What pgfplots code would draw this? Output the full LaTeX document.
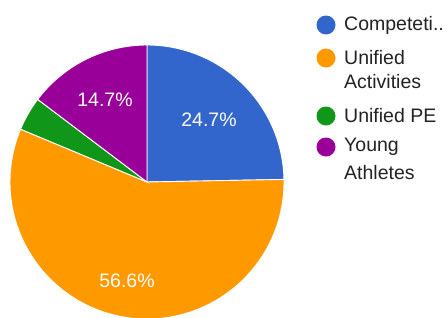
\documentclass[border=0pt]{standalone}
\usepackage{fontspec}
\setmainfont{Liberation Sans}
\usepackage{pgfplots}
\pgfplotsset{compat=1.18}
\definecolor{cBlue}{HTML}{3366CC}
\definecolor{cOrange}{HTML}{FF9900}
\definecolor{cGreen}{HTML}{109618}
\definecolor{cPurple}{HTML}{990099}
\definecolor{cText}{HTML}{222222}
% shares (percent)
\def\vA{24.7}
\def\vB{56.6}
\def\vC{4.0}
\def\vD{14.7}
\def\R{137}
\begin{document}
\begin{tikzpicture}
\begin{axis}[
  x=1pt, y=1pt,
  xmin=-147, xmax=300, ymin=-135, ymax=182,
  hide axis,
  clip mode=individual,
]
% slices, clockwise from 12 o'clock
\addplot[fill=cBlue, draw=white, line width=0.9pt, domain={90-3.6*(\vA)}:{90}, samples=80]
  ({\R*cos(x)},{\R*sin(x)}) -- (axis cs:0,0) -- cycle;
\addplot[fill=cOrange, draw=white, line width=0.9pt, domain={90-3.6*(\vA+\vB)}:{90-3.6*(\vA)}, samples=150]
  ({\R*cos(x)},{\R*sin(x)}) -- (axis cs:0,0) -- cycle;
\addplot[fill=cGreen, draw=white, line width=0.9pt, domain={90-3.6*(\vA+\vB+\vC)}:{90-3.6*(\vA+\vB)}, samples=20]
  ({\R*cos(x)},{\R*sin(x)}) -- (axis cs:0,0) -- cycle;
\addplot[fill=cPurple, draw=white, line width=0.9pt, domain={90-3.6*(\vA+\vB+\vC+\vD)}:{90-3.6*(\vA+\vB+\vC)}, samples=60]
  ({\R*cos(x)},{\R*sin(x)}) -- (axis cs:0,0) -- cycle;
% slice labels
\node[text=white, font=\fontsize{19.5}{23}\selectfont] at (axis cs:62,62) {24.7\%};
\node[text=white, font=\fontsize{19.5}{23}\selectfont] at (axis cs:-42,82) {14.7\%};
\node[text=white, font=\fontsize{19.5}{23}\selectfont] at (axis cs:-20,-99) {56.6\%};
% legend
\fill[cBlue]   (axis cs:179,157) circle[radius=9.5pt];
\fill[cOrange] (axis cs:179,124) circle[radius=9.5pt];
\fill[cGreen]  (axis cs:179,66)  circle[radius=9.5pt];
\fill[cPurple] (axis cs:179,35)  circle[radius=9.5pt];
\begin{scope}[every node/.style={anchor=west, inner sep=0pt, text=cText, font=\fontsize{19.5}{23}\selectfont}]
\node at (axis cs:197,157) {Competeti..};
\node at (axis cs:197,124) {Unified};
\node at (axis cs:197,100) {Activities};
\node at (axis cs:197,66)  {Unified PE};
\node at (axis cs:197,35)  {Young};
\node at (axis cs:197,9)   {Athletes};
\end{scope}
\end{axis}
\pgfresetboundingbox
\useasboundingbox (current axis.south west) rectangle (current axis.north east);
\end{tikzpicture}
\end{document}
